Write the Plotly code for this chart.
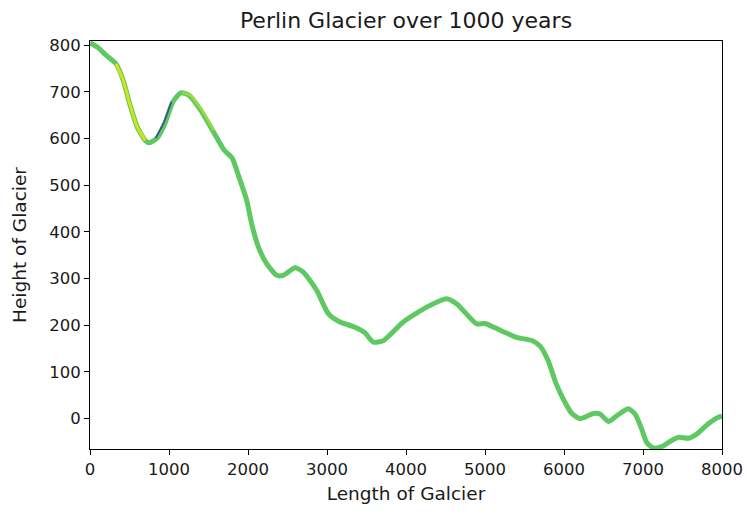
import plotly.graph_objects as go

# Glacier profile
length = [0, 100, 200, 330, 420, 500, 600, 700, 750, 850, 950, 1050, 1150, 1250, 1400, 1550,
          1700, 1800, 1877, 1983, 2046, 2131, 2236, 2363, 2447, 2595, 2700, 2869, 3017, 3165,
          3354, 3480, 3586, 3713, 3966, 4262, 4515, 4641, 4894, 5000, 5200, 5400, 5600, 5700,
          5800, 5900, 6000, 6100, 6203, 6371, 6456, 6561, 6667, 6814, 6899, 6983, 7047, 7131,
          7236, 7342, 7447, 7574, 7680, 7827, 7954, 8000]
height = [805, 795, 779, 760, 725, 676, 624, 596, 591, 601, 633, 679, 698, 693, 661, 618,
          575, 558, 522, 468, 418, 368, 332, 307, 307, 323, 314, 275, 225, 207,
          196, 184, 164, 167, 207, 239, 257, 246, 203, 204, 189, 174, 167, 155,
          124, 75, 39, 11, 0, 11, 10, -6, 6, 21, 10, -22, -51, -63,
          -60, -49, -40, -42, -33, -11, 3, 5]

x_ticks = [0, 1000, 2000, 3000, 4000, 5000, 6000, 7000, 8000]
y_ticks = [0, 100, 200, 300, 400, 500, 600, 700, 800]

# Coloured sub-segments (index ranges into the profile)
yellow_idx = list(range(3, 8))
blue_idx = list(range(9, 12))
ygreen_idx = list(range(12, 16))

GREEN = "#5ec962"
FONT = "DejaVu Sans"
TXT = "#1a1a1a"

fig = go.Figure()
fig.add_trace(go.Scatter(x=length, y=height, mode="lines",
                         line=dict(color=GREEN, width=5, shape="spline", smoothing=0.6),
                         showlegend=False, hoverinfo="skip"))
fig.add_trace(go.Scatter(x=[length[i] for i in yellow_idx], y=[height[i] for i in yellow_idx],
                         mode="lines", line=dict(color="#d5e21a", width=3, shape="spline", smoothing=0.6),
                         showlegend=False, hoverinfo="skip"))
fig.add_trace(go.Scatter(x=[length[i] - 20 for i in blue_idx], y=[height[i] for i in blue_idx],
                         mode="lines", line=dict(color="#3b528b", width=1.8, shape="spline", smoothing=0.6),
                         showlegend=False, hoverinfo="skip"))
fig.add_trace(go.Scatter(x=[length[i] + 15 for i in ygreen_idx], y=[height[i] for i in ygreen_idx],
                         mode="lines", line=dict(color="#a0da39", width=2.5, shape="spline", smoothing=0.6),
                         showlegend=False, hoverinfo="skip"))

axis_common = dict(showgrid=False, zeroline=False, showline=True, linecolor="black", linewidth=1,
                   mirror=True, ticks="outside", ticklen=5, tickcolor="black", automargin=False,
                   tickfont=dict(family=FONT, size=16.5, color=TXT))

fig.update_layout(
    width=746, height=512,
    margin=dict(l=90, r=24, t=41, b=63),
    plot_bgcolor="white", paper_bgcolor="white",
    title=dict(text="Perlin Glacier over 1000 years", x=(90 + 722) / 2 / 746, xanchor="center",
               y=1 - 20 / 512, yanchor="middle",
               font=dict(family=FONT, size=22, color=TXT)),
    xaxis=dict(range=[0, 8000], tickvals=x_ticks,
               title=dict(text="Length of Galcier", font=dict(family=FONT, size=18.5, color=TXT),
                          standoff=9),
               **axis_common),
    yaxis=dict(range=[-65, 809], tickvals=y_ticks,
               title=dict(text="Height of Glacier", font=dict(family=FONT, size=18.5, color=TXT),
                          standoff=17),
               **axis_common),
)

fig.write_html("out.html")
